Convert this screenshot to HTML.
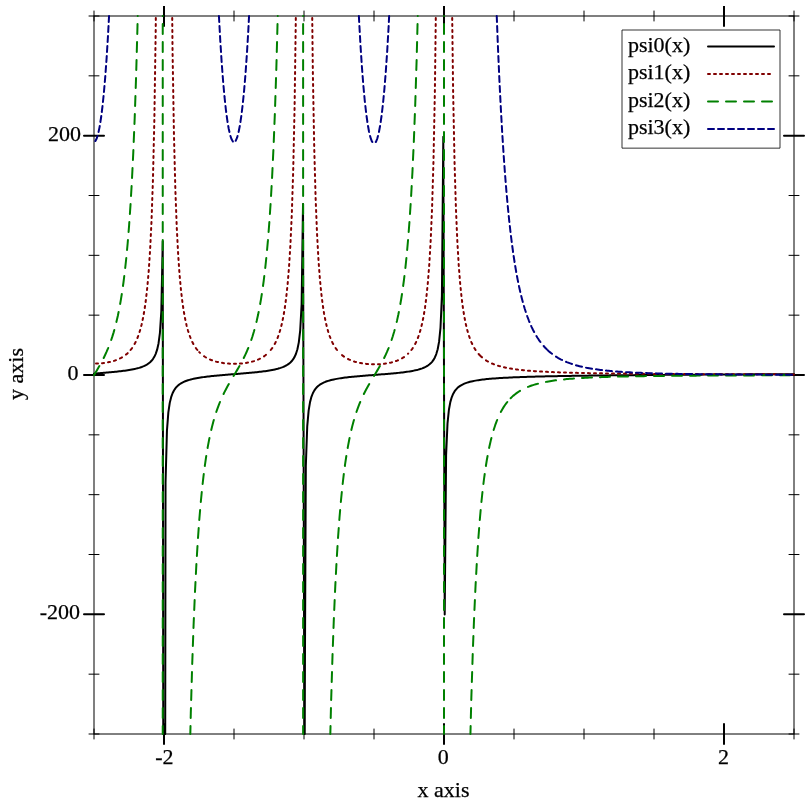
<!DOCTYPE html>
<html><head><meta charset="utf-8"><title>psi plot</title>
<style>
html,body{margin:0;padding:0;background:#fff;}
body{width:812px;height:812px;overflow:hidden;}
svg{display:block;}
text{font-family:"Liberation Serif",serif;font-size:22px;fill:#000;stroke:#000;stroke-width:.25px;}
.ax{fill:none;stroke:#000;stroke-width:1;}
.mn{fill:none;stroke:#000;stroke-width:1;stroke-linecap:round;}
.mj{fill:none;stroke:#000;stroke-width:2;stroke-linecap:round;}
polyline,.cv,.lg{fill:none;stroke-width:2;stroke-linecap:round;stroke-linejoin:round;}
.c0{stroke:#000;}
.c1{stroke:#800000;}
.c2{stroke:#008000;}
.c3{stroke:#000080;}
</style></head><body>
<svg width="812" height="812" viewBox="0 0 812 812">
<rect x="0" y="0" width="812" height="812" fill="#fff"/>
<defs><clipPath id="pc"><rect x="6" y="6" width="800" height="800"/></clipPath></defs>
<g clip-path="url(#pc)">
<rect class="ax" x="94" y="16" width="700" height="718"/>
<path class="mn" d="M94.00 11.00V21.00M94.00 729.00V739.00M234.00 11.00V21.00M234.00 729.00V739.00M304.00 11.00V21.00M304.00 729.00V739.00M374.00 11.00V21.00M374.00 729.00V739.00M514.00 11.00V21.00M514.00 729.00V739.00M584.00 11.00V21.00M584.00 729.00V739.00M654.00 11.00V21.00M654.00 729.00V739.00M794.00 11.00V21.00M794.00 729.00V739.00M89.00 734.00H99.00M789.00 734.00H799.00M89.00 674.17H99.00M789.00 674.17H799.00M89.00 554.50H99.00M789.00 554.50H799.00M89.00 494.67H99.00M789.00 494.67H799.00M89.00 434.83H99.00M789.00 434.83H799.00M89.00 315.17H99.00M789.00 315.17H799.00M89.00 255.33H99.00M789.00 255.33H799.00M89.00 195.50H99.00M789.00 195.50H799.00M89.00 75.83H99.00M789.00 75.83H799.00M89.00 16.00H99.00M789.00 16.00H799.00"/>
<path class="mj" d="M164.00 6.00V26.00M164.00 724.00V744.00M444.00 6.00V26.00M444.00 724.00V744.00M724.00 6.00V26.00M724.00 724.00V744.00M84.00 614.33H104.00M784.00 614.33H804.00M84.00 375.00H104.00M784.00 375.00H804.00M84.00 135.67H104.00M784.00 135.67H804.00"/>
<g>
<text x="81.1" y="140.6" text-anchor="end">200</text>
<text x="78.6" y="379.8" text-anchor="end">0</text>
<text x="80" y="618.7" text-anchor="end">-200</text>
<text x="164.3" y="763.8" text-anchor="middle">-2</text>
<text x="443.2" y="763.8" text-anchor="middle">0</text>
<text x="723.6" y="763.8" text-anchor="middle">2</text>
<text x="443.6" y="796.7" text-anchor="middle">x axis</text>
<text transform="translate(23.1 374.0) rotate(-90)" text-anchor="middle">y axis</text>
</g>
<g>
<path class="cv c0" d="M94 373.68L95.4 373.57L96.81 373.45L98.21 373.34L99.61 373.22L101.01 373.1L102.42 372.99L103.82 372.87L105.22 372.74L106.63 372.62L108.03 372.5L109.43 372.37L110.83 372.24L112.24 372.1L113.64 371.96L115.04 371.82L116.44 371.67L117.85 371.52L119.25 371.36L120.65 371.2L122.06 371.02L123.46 370.84L124.86 370.65L126.26 370.45L127.67 370.24L129.07 370.01L130.47 369.77L131.88 369.51L133.28 369.24L134.68 368.94L136.08 368.61L137.49 368.25L138.89 367.86L140.29 367.43L141.7 366.95L143.1 366.41L144.5 365.8L145.9 365.09L147.31 364.28L148.71 363.32L150.11 362.18L151.52 360.79L152.92 359.05L154.32 356.83L155.72 353.86L157.13 349.69L158.53 343.41L159.93 332.81L161.33 311.11L162.74 241.23L163.26 734"/>
<path class="cv c0" d="M165.22 734L165.54 482.43L166.95 430.69L168.35 412.31L169.75 402.88L171.15 397.14L172.56 393.26L173.96 390.47L175.36 388.36L176.77 386.7L178.17 385.37L179.57 384.27L180.97 383.34L182.38 382.55L183.78 381.87L185.18 381.27L186.59 380.75L187.99 380.28L189.39 379.85L190.79 379.47L192.2 379.12L193.6 378.8L195 378.51L196.4 378.24L197.81 377.98L199.21 377.74L200.61 377.52L202.02 377.31L203.42 377.12L204.82 376.93L206.22 376.75L207.63 376.58L209.03 376.42L210.43 376.26L211.84 376.11L213.24 375.96L214.64 375.82L216.04 375.69L217.45 375.56L218.85 375.43L220.25 375.3L221.66 375.18L223.06 375.06L224.46 374.94L225.86 374.82L227.27 374.7L228.67 374.59L230.07 374.47L231.47 374.36L232.88 374.25L234.28 374.14L235.68 374.02L237.09 373.91L238.49 373.8L239.89 373.68L241.29 373.57L242.7 373.45L244.1 373.33L245.5 373.22L246.91 373.09L248.31 372.97L249.71 372.84L251.11 372.71L252.52 372.58L253.92 372.44L255.32 372.3L256.73 372.16L258.13 372L259.53 371.85L260.93 371.68L262.34 371.51L263.74 371.33L265.14 371.14L266.55 370.94L267.95 370.72L269.35 370.5L270.75 370.26L272.16 370L273.56 369.72L274.96 369.41L276.36 369.09L277.77 368.73L279.17 368.33L280.57 367.89L281.98 367.4L283.38 366.85L284.78 366.22L286.18 365.5L287.59 364.67L288.99 363.68L290.39 362.49L291.8 361.05L293.2 359.23L294.6 356.88L296 353.72L297.41 349.23L298.81 342.33L300.21 330.35L301.62 304.3L303.02 203.91L304.33 734"/>
<path class="cv c0" d="M304.6 734L305.82 466.32L307.23 426.35L308.63 410.58L310.03 402.13L311.43 396.86L312.84 393.25L314.24 390.62L315.64 388.62L317.05 387.04L318.45 385.76L319.85 384.7L321.25 383.81L322.66 383.05L324.06 382.39L325.46 381.81L326.87 381.3L328.27 380.84L329.67 380.43L331.07 380.06L332.48 379.72L333.88 379.41L335.28 379.13L336.69 378.86L338.09 378.61L339.49 378.38L340.89 378.17L342.3 377.97L343.7 377.77L345.1 377.59L346.51 377.42L347.91 377.26L349.31 377.1L350.71 376.95L352.12 376.8L353.52 376.66L354.92 376.53L356.32 376.4L357.73 376.27L359.13 376.15L360.53 376.03L361.94 375.91L363.34 375.79L364.74 375.68L366.14 375.56L367.55 375.45L368.95 375.34L370.35 375.24L371.76 375.13L373.16 375.02L374.56 374.91L375.96 374.81L377.37 374.7L378.77 374.59L380.17 374.48L381.58 374.37L382.98 374.26L384.38 374.15L385.78 374.04L387.19 373.92L388.59 373.8L389.99 373.68L391.39 373.56L392.8 373.43L394.2 373.3L395.6 373.16L397.01 373.02L398.41 372.87L399.81 372.72L401.21 372.56L402.62 372.4L404.02 372.22L405.42 372.04L406.83 371.84L408.23 371.63L409.63 371.41L411.03 371.17L412.44 370.92L413.84 370.64L415.24 370.34L416.65 370.02L418.05 369.66L419.45 369.26L420.85 368.82L422.26 368.33L423.66 367.78L425.06 367.14L426.46 366.41L427.87 365.55L429.27 364.54L430.67 363.32L432.08 361.82L433.48 359.92L434.88 357.45L436.28 354.09L437.69 349.24L439.09 341.64L440.49 327.97L441.9 296.1L443.3 136.85L444.7 614.54L446.1 455.28L447.51 423.41L448.91 409.75L450.31 402.14L451.72 397.3L453.12 393.94L454.52 391.47L455.92 389.58L457.33 388.09L458.73 386.87L460.13 385.87L461.54 385.02L462.94 384.29L464.34 383.67L465.74 383.12L467.15 382.64L468.55 382.21L469.95 381.82L471.35 381.48L472.76 381.16L474.16 380.88L475.56 380.62L476.97 380.38L478.37 380.15L479.77 379.95L481.17 379.76L482.58 379.58L483.98 379.41L485.38 379.26L486.79 379.11L488.19 378.97L489.59 378.84L490.99 378.72L492.4 378.6L493.8 378.49L495.2 378.39L496.61 378.29L498.01 378.19L499.41 378.1L500.81 378.02L502.22 377.93L503.62 377.85L505.02 377.78L506.42 377.7L507.83 377.63L509.23 377.56L510.63 377.5L512.04 377.43L513.44 377.37L514.84 377.31L516.24 377.26L517.65 377.2L519.05 377.15L520.45 377.1L521.86 377.05L523.26 377L524.66 376.95L526.06 376.9L527.47 376.86L528.87 376.82L530.27 376.77L531.68 376.73L533.08 376.69L534.48 376.65L535.88 376.62L537.29 376.58L538.69 376.54L540.09 376.51L541.49 376.47L542.9 376.44L544.3 376.41L545.7 376.37L547.11 376.34L548.51 376.31L549.91 376.28L551.31 376.25L552.72 376.22L554.12 376.19L555.52 376.16L556.93 376.14L558.33 376.11L559.73 376.08L561.13 376.06L562.54 376.03L563.94 376.01L565.34 375.98L566.75 375.96L568.15 375.93L569.55 375.91L570.95 375.89L572.36 375.87L573.76 375.84L575.16 375.82L576.57 375.8L577.97 375.78L579.37 375.76L580.77 375.74L582.18 375.72L583.58 375.7L584.98 375.68L586.38 375.66L587.79 375.64L589.19 375.62L590.59 375.6L592 375.58L593.4 375.56L594.8 375.55L596.2 375.53L597.61 375.51L599.01 375.49L600.41 375.48L601.82 375.46L603.22 375.44L604.62 375.43L606.02 375.41L607.43 375.4L608.83 375.38L610.23 375.37L611.64 375.35L613.04 375.33L614.44 375.32L615.84 375.3L617.25 375.29L618.65 375.28L620.05 375.26L621.45 375.25L622.86 375.23L624.26 375.22L625.66 375.21L627.07 375.19L628.47 375.18L629.87 375.17L631.27 375.15L632.68 375.14L634.08 375.13L635.48 375.11L636.89 375.1L638.29 375.09L639.69 375.08L641.09 375.06L642.5 375.05L643.9 375.04L645.3 375.03L646.71 375.02L648.11 375L649.51 374.99L650.91 374.98L652.32 374.97L653.72 374.96L655.12 374.95L656.53 374.94L657.93 374.93L659.33 374.91L660.73 374.9L662.14 374.89L663.54 374.88L664.94 374.87L666.34 374.86L667.75 374.85L669.15 374.84L670.55 374.83L671.96 374.82L673.36 374.81L674.76 374.8L676.16 374.79L677.57 374.78L678.97 374.77L680.37 374.76L681.78 374.75L683.18 374.74L684.58 374.73L685.98 374.72L687.39 374.71L688.79 374.71L690.19 374.7L691.6 374.69L693 374.68L694.4 374.67L695.8 374.66L697.21 374.65L698.61 374.64L700.01 374.63L701.41 374.63L702.82 374.62L704.22 374.61L705.62 374.6L707.03 374.59L708.43 374.58L709.83 374.57L711.23 374.57L712.64 374.56L714.04 374.55L715.44 374.54L716.85 374.53L718.25 374.53L719.65 374.52L721.05 374.51L722.46 374.5L723.86 374.49L725.26 374.49L726.67 374.48L728.07 374.47L729.47 374.46L730.87 374.46L732.28 374.45L733.68 374.44L735.08 374.43L736.48 374.43L737.89 374.42L739.29 374.41L740.69 374.41L742.1 374.4L743.5 374.39L744.9 374.38L746.3 374.38L747.71 374.37L749.11 374.36L750.51 374.36L751.92 374.35L753.32 374.34L754.72 374.34L756.12 374.33L757.53 374.32L758.93 374.32L760.33 374.31L761.74 374.3L763.14 374.3L764.54 374.29L765.94 374.28L767.35 374.28L768.75 374.27L770.15 374.26L771.56 374.26L772.96 374.25L774.36 374.24L775.76 374.24L777.17 374.23L778.57 374.23L779.97 374.22L781.37 374.21L782.78 374.21L784.18 374.2L785.58 374.19L786.99 374.19L788.39 374.18L789.79 374.18L791.19 374.17L792.6 374.16L794 374.16"/>
<path class="cv c1" d="M96 363.56L96.81 363.54L98 363.49M102 363.2L102.42 363.16L103.82 363L104 362.98M108 362.35L108.03 362.35L109.43 362.06L110 361.93M114 360.86L115.04 360.52L116 360.18M120 358.45L120.65 358.13L122 357.38M126 354.59L126.26 354.38L127.67 353.14M130.58 350L131.88 348.32L132.09 348M134.59 344L134.68 343.85L135.62 342M137.42 338L137.49 337.84L138.17 336M139.53 332L140.15 330M141.22 326L141.7 324.16L141.73 324M142.59 320L143.02 318M143.74 314L144.09 312M144.74 308L145.02 306M145.59 302L145.87 300M146.32 296L146.55 294M147 290L147.22 288M147.59 284L147.76 282M148.11 278L148.28 276M148.63 272L148.71 271.1L148.78 270M149.05 266L149.18 264M149.44 260L149.57 258M149.84 254L149.97 252M150.2 248L150.3 246M150.49 242L150.59 240M150.78 236L150.88 234M151.08 230L151.17 228M151.37 224L151.47 222M151.62 218L151.69 216M151.83 212L151.9 210M152.03 206L152.1 204M152.24 200L152.31 198M152.45 194L152.52 192M152.66 188L152.73 186M152.87 182L152.92 180.5L152.93 180M153.02 176L153.07 174M153.17 170L153.21 168M153.31 164L153.35 162M153.45 158L153.5 156M153.59 152L153.64 150M153.73 146L153.78 144M153.87 140L153.92 138M154.02 134L154.06 132M154.16 128L154.21 126M154.3 122L154.32 121.14L154.34 120M154.4 116L154.43 114M154.49 110L154.52 108M154.58 104L154.61 102M154.67 98L154.7 96M154.76 92L154.8 90M154.86 86L154.89 84M154.95 80L154.98 78M155.04 74L155.07 72M155.13 68L155.16 66M155.22 62L155.25 60M155.31 56L155.34 54M155.4 50L155.44 48M155.5 44L155.53 42M155.59 38L155.62 36M155.68 32L155.71 30M155.75 26L155.77 24M155.81 20L155.82 18M172.22 18L172.24 20M172.28 24L172.3 26M172.34 30L172.36 32M172.4 36L172.42 38M172.46 42L172.48 44M172.52 48L172.54 50M172.6 54L172.64 56M172.7 60L172.74 62M172.8 66L172.84 68M172.9 72L172.94 74M173.01 78L173.04 80M173.11 84L173.14 86M173.21 90L173.24 92M173.31 96L173.34 98M173.41 102L173.44 104M173.51 108L173.54 110M173.61 114L173.64 116M173.71 120L173.74 122M173.81 126L173.84 128M173.91 132L173.94 134M174.03 138L174.09 140M174.19 144L174.24 146M174.34 150L174.39 152M174.5 156L174.55 158M174.65 162L174.7 164M174.8 168L174.85 170M174.96 174L175.01 176M175.11 180L175.16 182M175.26 186L175.32 188M175.44 192L175.52 194M175.67 198L175.74 200M175.89 204L175.96 206M176.11 210L176.19 212M176.34 216L176.41 218M176.56 222L176.63 224M176.79 228L176.89 230M177.1 234L177.2 236M177.41 240L177.51 242M177.72 246L177.82 248M178.03 252L178.14 254M178.4 258L178.54 260M178.82 264L178.96 266M179.24 270L179.38 272M179.69 276L179.87 278M180.24 282L180.42 284M180.79 288L180.97 290M181.44 294L181.68 296M182.15 300L182.38 301.97L182.38 302M182.97 306L183.27 308M183.88 312L184.25 314M184.98 318L185.18 319.11L185.38 320M186.28 324L186.59 325.38L186.75 326M187.83 330L187.99 330.57L188.45 332M189.8 336L190.56 338M192.33 342L193.37 344M195.86 348L196.4 348.79L197.36 350M199.21 352.12L200 352.9M204 356.2L204.82 356.76L206 357.48M210 359.51L210.43 359.7L211.84 360.25L212 360.31M216 361.58L216.04 361.6L217.45 361.95L218 362.08M222 362.85L223.06 363.01L224 363.14M228 363.54L228.67 363.59L230 363.67M234 363.77L234.28 363.78L235.68 363.76L236 363.75M240 363.57L241.29 363.47L242 363.4M246 362.9L246.91 362.75L248 362.56M252 361.65L252.52 361.52L253.92 361.11L254 361.08M258 359.61L258.13 359.56L259.53 358.92L260 358.68M264 356.32L265.14 355.51L266 354.82M270.78 350L272.16 348.17L272.27 348M274.72 344L274.96 343.57L275.73 342M277.51 338L277.77 337.38L278.26 336M279.61 332L280.21 330M281.28 326L281.78 324M282.64 320L283.06 318M283.79 314L284.13 312M284.8 308L285.07 306M285.61 302L285.88 300M286.37 296L286.58 294M287.01 290L287.22 288M287.64 284L287.8 282M288.13 278L288.3 276M288.63 272L288.79 270M289.09 266L289.21 264M289.46 260L289.59 258M289.84 254L289.96 252M290.21 248L290.33 246M290.53 242L290.62 240M290.8 236L290.9 234M291.08 230L291.17 228M291.35 224L291.44 222M291.63 218L291.72 216M291.87 212L291.93 210M292.06 206L292.13 204M292.26 200L292.32 198M292.45 194L292.51 192M292.64 188L292.71 186M292.84 182L292.9 180M293.03 176L293.09 174M293.21 170L293.26 168M293.34 164L293.39 162M293.48 158L293.52 156M293.61 152L293.65 150M293.74 146L293.78 144M293.87 140L293.91 138M294 134L294.04 132M294.13 128L294.17 126M294.26 122L294.3 120M294.39 116L294.43 114M294.52 110L294.56 108M294.63 104L294.66 102M294.72 98L294.74 96M294.8 92L294.83 90M294.88 86L294.91 84M294.96 80L294.99 78M295.05 74L295.08 72M295.13 68L295.16 66M295.21 62L295.24 60M295.3 56L295.32 54M295.38 50L295.41 48M295.46 44L295.49 42M295.55 38L295.57 36M295.63 32L295.66 30M295.71 26L295.74 24M295.8 20L295.82 18M312.23 18L312.25 20M312.3 24L312.32 26M312.37 30L312.39 32M312.44 36L312.46 38M312.5 42L312.53 44M312.57 48L312.59 50M312.64 54L312.66 56M312.71 60L312.73 62M312.78 66L312.8 68M312.85 72L312.88 74M312.96 78L312.99 80M313.07 84L313.1 86M313.18 90L313.21 92M313.29 96L313.32 98M313.4 102L313.43 104M313.51 108L313.54 110M313.61 114L313.65 116M313.72 120L313.76 122M313.83 126L313.87 128M313.94 132L313.98 134M314.05 138L314.09 140M314.16 144L314.2 146M314.29 150L314.35 152M314.46 156L314.51 158M314.62 162L314.68 164M314.79 168L314.85 170M314.96 174L315.01 176M315.12 180L315.18 182M315.29 186L315.34 188M315.45 192L315.51 194M315.62 198L315.64 198.81L315.69 200M315.85 204L315.93 206M316.09 210L316.17 212M316.33 216L316.41 218M316.57 222L316.65 224M316.81 228L316.89 230M317.05 234L317.05 234.01L317.16 236M317.38 240L317.49 242M317.71 246L317.82 248M318.04 252L318.15 254M318.37 258L318.45 259.46L318.49 260M318.78 264L318.93 266M319.23 270L319.38 272M319.67 276L319.82 278M320.19 282L320.39 284M320.77 288L320.97 290M321.38 294L321.62 296M322.12 300L322.36 302M322.91 306L323.22 308M323.83 312L324.06 313.46L324.16 314M324.93 318L325.31 320M326.2 324L326.67 326M327.75 330L328.27 331.86L328.32 332M329.65 336L329.67 336.07L330.43 338M332.16 342L332.48 342.68L333.18 344M335.59 348L336.69 349.55L337.05 350M342 355.09L342.3 355.34L343.7 356.41L344 356.61M348 359L349.31 359.64L350 359.94M354 361.44L354.92 361.73L356 362.03M360 362.97L360.53 363.07L361.94 363.32L362 363.33M366 363.86L366.14 363.88L367.55 364.01L368 364.05M372 364.27L373.16 364.3L374 364.31M378 364.24L378.77 364.21L380 364.13M384 363.77L384.38 363.72L385.78 363.53L386 363.5M390 362.77L391.39 362.45L392 362.29M396 361.06L397.01 360.69L398 360.28M402 358.3L402.62 357.95L404 357.06M408 353.8L408.23 353.59M411.38 350L412.44 348.56L412.8 348M415.16 344L415.24 343.86L416.13 342M417.84 338L418.05 337.5L418.57 336M419.88 332L420.46 330M421.49 326L421.98 324M422.83 320L423.23 318M423.95 314L424.28 312M424.93 308L425.06 307.16L425.21 306M425.73 302L425.99 300M426.5 296L426.7 294M427.11 290L427.31 288M427.72 284L427.87 282.52L427.91 282M428.22 278L428.38 276M428.69 272L428.85 270M429.16 266L429.27 264.57L429.3 264M429.54 260L429.66 258M429.89 254L430.01 252M430.24 248L430.36 246M430.59 242L430.67 240.65L430.7 240M430.87 236L430.96 234M431.13 230L431.21 228M431.38 224L431.47 222M431.64 218L431.73 216M431.9 212L431.98 210M432.13 206L432.19 204M432.31 200L432.37 198M432.49 194L432.55 192M432.67 188L432.73 186M432.85 182L432.91 180M433.03 176L433.09 174M433.21 170L433.27 168M433.39 164L433.45 162M433.54 158L433.58 156M433.66 152L433.7 150M433.78 146L433.82 144M433.9 140L433.94 138M434.02 134L434.06 132M434.14 128L434.18 126M434.26 122L434.3 120M434.38 116L434.42 114M434.5 110L434.54 108M434.62 104L434.66 102M434.74 98L434.78 96M434.86 92L434.88 90.72L434.89 90M434.94 86L434.97 84M435.02 80L435.04 78M435.09 74L435.12 72M435.17 68L435.19 66M435.24 62L435.27 60M435.32 56L435.34 54M435.39 50L435.42 48M435.47 44L435.49 42M435.54 38L435.57 36M435.62 32L435.64 30M435.69 26L435.72 24M435.77 20L435.79 18M452.2 18L452.23 20M452.28 24L452.3 26M452.35 30L452.38 32M452.43 36L452.45 38M452.5 42L452.53 44M452.58 48L452.6 50M452.65 54L452.68 56M452.73 60L452.75 62M452.8 66L452.83 68M452.88 72L452.9 74M452.95 78L452.98 80M453.03 84L453.05 86M453.1 90L453.12 91.1L453.14 92M453.22 96L453.26 98M453.34 102L453.38 104M453.46 108L453.5 110M453.58 114L453.62 116M453.7 120L453.74 122M453.82 126L453.86 128M453.94 132L453.98 134M454.05 138L454.09 140M454.17 144L454.21 146M454.29 150L454.33 152M454.41 156L454.45 158M454.54 162L454.6 164M454.72 168L454.78 170M454.9 174L454.96 176M455.08 180L455.14 182M455.26 186L455.32 188M455.44 192L455.5 194M455.62 198L455.68 200M455.8 204L455.86 206M456 210L456.08 212M456.25 216L456.34 218M456.51 222L456.59 224M456.76 228L456.85 230M457.02 234L457.1 236M457.28 240L457.33 241.21L457.37 242M457.61 246L457.72 248M457.96 252L458.07 254M458.31 258L458.43 260M458.66 264L458.73 265.19L458.79 266M459.1 270L459.26 272M459.57 276L459.73 278M460.04 282L460.13 283.19L460.21 284M460.62 288L460.82 290M461.23 294L461.43 296M461.91 300L462.17 302M462.69 306L462.94 307.96L462.94 308M463.59 312L463.91 314M464.6 318L464.99 320M465.79 324L466.27 326M467.25 330L467.82 332M469.05 336L469.74 338M471.3 342L471.35 342.13L472.23 344M474.33 348L475.56 349.98L475.57 350M478.64 354L479.77 355.25M480 355.47L481.17 356.62L482 357.34M486 360.34L486.79 360.84L488 361.54M492 363.52L492.4 363.69L493.8 364.26L494 364.34M498 365.71L498.01 365.71L499.41 366.13L500 366.29M504 367.29L505.02 367.52L506 367.72M510 368.47L510.63 368.57L512 368.79M516 369.37L516.24 369.4L517.65 369.58L518 369.62M522 370.08L523.26 370.21L524 370.28M528 370.65L528.87 370.72L530 370.81M534 371.11L534.48 371.15L535.88 371.24L536 371.25M540 371.5L540.09 371.5L541.49 371.58L542 371.61M546 371.82L547.11 371.87L548 371.91M552 372.09L552.72 372.12L554 372.17M558 372.32L558.33 372.33L559.73 372.38L560 372.39M564 372.52L565.34 372.57L566 372.58M570 372.7L570.95 372.73L572 372.75M576 372.85L576.57 372.87L577.97 372.9L578 372.9M582 372.99L582.18 372.99L583.58 373.02L584 373.03M588 373.11L589.19 373.13L590 373.15M594 373.22L594.8 373.23L596 373.25M600 373.32L600.41 373.32L601.82 373.34L602 373.35M606 373.4L606.02 373.4L607.43 373.42L608 373.43M612 373.48L613.04 373.5L614 373.51M618 373.56L618.65 373.56L620 373.58M624 373.62L624.26 373.62L625.66 373.64L626 373.64M630 373.68L631.27 373.69L632 373.7M636 373.74L636.89 373.75L638 373.76M642 373.79L642.5 373.79L643.9 373.81L644 373.81M648 373.84L648.11 373.84L649.51 373.85L650 373.85M654 373.88L655.12 373.89L656 373.9M660 373.92L660.73 373.93L662 373.94M666 373.96L666.34 373.96L667.75 373.97L668 373.97M672 374L673.36 374L674 374.01M678 374.03L678.97 374.03L680 374.04M684 374.06L684.58 374.06L685.98 374.07L686 374.07M690 374.09L690.19 374.09L691.6 374.1L692 374.1M696 374.12L697.21 374.12L698 374.13M702 374.14L702.82 374.15L704 374.15M708 374.17L708.43 374.17L709.83 374.18L710 374.18M714 374.19L714.04 374.19L715.44 374.2L716 374.2M720 374.21L721.05 374.22L722 374.22M726 374.24L726.67 374.24L728 374.24M732 374.25L732.28 374.26L733.68 374.26L734 374.26M738 374.27L739.29 374.28L740 374.28M744 374.29L744.9 374.29L746 374.3M750 374.31L750.51 374.31L751.92 374.31L752 374.31M756 374.33L756.12 374.33L757.53 374.33L758 374.33M762 374.34L763.14 374.34L764 374.35M768 374.36L768.75 374.36L770 374.36M774 374.37L774.36 374.37L775.76 374.37L776 374.37M780 374.38L781.37 374.39L782 374.39M786 374.4L786.99 374.4L788 374.4M792 374.41L792.6 374.41L794 374.41"/>
<path class="cv c2" d="M94 375.13L95.4 372.79L96.81 370.43L98.21 368.04L99.38 366M103.66 358L103.82 357.68L105.22 354.78L106.63 351.7L108.03 348.41L108.19 348M111.19 340L112.24 336.9L113.64 332.36L114.3 330M116.4 322L116.44 321.83L117.85 315.69L118.6 312M120.13 304L120.65 301.11L121.8 294M122.96 286L123.46 282.51L124.27 276M125.21 268L126.26 258.24L126.29 258M127.04 250L127.67 243.24L127.93 240M128.57 232L129.07 225.8L129.33 222M129.88 214L130.47 205.37L130.55 204M131.02 196L131.6 186M132.04 178L132.53 168M132.92 160L133.28 152.64L133.39 150M133.71 142L134.12 132M134.45 124L134.68 118.31L134.83 114M135.1 106L135.44 96M135.71 88L136.04 78M136.27 70L136.55 60M136.77 52L137.05 42M137.27 34L137.49 26.08L137.53 24M137.71 16L137.72 16M162.74 16L162.75 16M162.74 24L162.74 34M162.74 42L162.74 52M162.74 60L162.74 70M162.74 78L162.74 88M162.74 96L162.74 106M162.74 114L162.74 124M162.74 132L162.74 142M162.74 150L162.74 160M162.74 168L162.74 178M162.74 186L162.74 196M162.74 204L162.74 214M162.74 222L162.74 232M162.74 240L162.74 250M162.74 258L162.74 268M162.74 276L162.74 286M162.74 294L162.74 304M162.74 312L162.74 322M162.74 330L162.74 340M162.74 348L162.74 358M162.74 366L162.74 376M162.74 384L162.74 394M162.74 402L162.74 412M162.74 420L162.74 430M162.74 438L162.74 448M162.74 456L162.74 466M162.74 474L162.74 484M162.74 492L162.74 502M162.74 510L162.74 520M162.74 528L162.74 538M162.74 546L162.74 556M162.74 564L162.74 574M162.74 582L162.74 592M162.74 600L162.74 610M162.74 618L162.74 628M162.74 636L162.74 646M162.74 654L162.74 664M162.74 672L162.74 682M162.74 690L162.74 700M162.74 708L162.74 718M162.74 726L162.74 734M190.31 734L190.5 726M190.68 718L190.79 713.3L190.95 708M191.18 700L191.46 690M191.7 682L191.98 672M192.22 664L192.57 654M192.85 646L193.2 636M193.48 628L193.6 624.68L193.88 618M194.22 610L194.65 600M194.98 592L195 591.59L195.49 582M195.89 574L196.4 564M196.88 556L197.49 546M198 538L198.7 528M199.28 520L200.11 510M200.8 502L201.77 492M202.62 484L203.42 476.78L203.77 474M204.79 466L204.82 465.79L206.22 456.15L206.25 456M207.57 448L207.63 447.66L209.03 440.13L209.47 438M211.23 430L211.84 427.4L213.24 421.99L213.81 420M216.26 412L217.45 408.55L218.85 404.79L219.97 402M223.56 394L224.46 392.16L225.86 389.44L227.27 386.83L228.67 384.32L228.85 384M233.57 376L234.28 374.82L235.68 372.48L237.09 370.12L238.49 367.71L239.47 366M243.74 358L244.1 357.28L245.5 354.35L246.91 351.23L248.27 348M251.26 340L252.52 336.21L253.92 331.58L254.35 330M256.44 322L256.73 320.84L258.13 314.57L258.64 312M260.16 304L260.93 299.65L261.82 294M262.99 286L263.74 280.57L264.29 276M265.24 268L266.29 258M267.06 250L267.95 240.17L267.96 240M268.59 232L269.35 222.18L269.36 222M269.89 214L270.56 204M271.04 196L271.6 186M272.05 178L272.16 176.16L272.54 168M272.92 160L273.39 150M273.74 142L274.13 132M274.44 124L274.84 114M275.12 106L275.44 96M275.7 88L276.03 78M276.29 70L276.36 67.69L276.57 60M276.78 52L277.05 42M277.26 34L277.52 24M277.74 16L277.75 16M303.12 16L303.13 16M303.12 24L303.12 34M303.12 42L303.12 52M303.12 60L303.12 70M303.12 78L303.12 88M303.12 96L303.12 106M303.12 114L303.12 124M303.12 132L303.12 142M303.12 150L303.12 160M303.12 168L303.12 178M303.12 186L303.12 196M303.12 204L303.12 214M303.12 222L303.12 232M303.12 240L303.12 250M303.12 258L303.12 268M303.12 276L303.12 286M303.12 294L303.12 304M303.12 312L303.12 322M303.12 330L303.12 340M303.12 348L303.12 358M303.12 366L303.12 376M303.12 384L303.12 394M303.12 402L303.12 412M303.12 420L303.12 430M303.12 438L303.12 448M303.12 456L303.12 466M303.12 474L303.12 484M303.12 492L303.12 502M303.12 510L303.12 520M303.12 528L303.12 538M303.12 546L303.12 556M303.12 564L303.12 574M303.12 582L303.12 592M303.12 600L303.12 610M303.12 618L303.12 628M303.12 636L303.12 646M303.12 654L303.12 664M303.12 672L303.12 682M303.12 690L303.12 700M303.12 708L303.12 718M303.12 726L303.12 734M330.32 734L330.52 726M330.71 718L330.96 708M331.17 700L331.47 690M331.71 682L332.01 672M332.25 664L332.48 656.41L332.56 654M332.86 646L333.22 636M333.51 628L333.88 618M334.23 610L334.67 600M335.02 592L335.28 586.1L335.5 582M335.92 574L336.44 564M336.9 556L337.52 546M338.02 538L338.09 536.88L338.74 528M339.32 520L339.49 517.73L340.15 510M340.84 502L340.89 501.33L341.82 492M342.66 484L343.7 474.94L343.82 474M344.87 466L345.1 464.24L346.33 456M347.67 448L347.91 446.58L349.31 439.23L349.57 438M351.35 430L352.12 426.8L353.52 421.51L353.96 420M356.44 412L357.73 408.34L359.13 404.65L360.22 402M363.86 394L364.74 392.23L366.14 389.54L367.55 386.97L368.95 384.49L369.23 384M374 376L374.56 375.06L375.96 372.74L377.37 370.38L378.77 367.99L379.9 366M384.15 358L384.38 357.53L385.78 354.58L387.19 351.45L388.59 348.09L388.62 348M391.57 340L392.8 336.25L394.2 331.56L394.62 330M396.68 322L397.01 320.65L398.41 314.25L398.85 312M400.35 304L401.21 299.03L401.99 294M403.14 286L404.02 279.5L404.43 276M405.38 268L405.42 267.6L406.41 258M407.17 250L408.05 240M408.68 232L409.44 222M409.98 214L410.63 204M411.13 196L411.67 186M412.11 178L412.44 171.94L412.62 168M412.98 160L413.44 150M413.8 142L413.84 141.22L414.19 132M414.49 124L414.87 114M415.18 106L415.24 104.26L415.5 96M415.75 88L416.06 78M416.31 70L416.63 60M416.83 52L417.09 42M417.29 34L417.55 24M417.75 16L417.76 16M444 16L444.01 16M444 24L444 34M444 42L444 52M444 60L444 70M444 78L444 88M444 96L444 106M444 114L444 124M444 132L444 142M444 150L444 160M444 168L444 178M444 186L444 196M444 204L444 214M444 222L444 232M444 240L444 250M444 258L444 268M444 276L444 286M444 294L444 304M444 312L444 322M444 330L444 340M444 348L444 358M444 366L444 376M444 384L444 394M444 402L444 412M444 420L444 430M444 438L444 448M444 456L444 466M444 474L444 484M444 492L444 502M444 510L444 520M444 528L444 538M444 546L444 556M444 564L444 574M444 582L444 592M444 600L444 610M444 618L444 628M444 636L444 646M444 654L444 664M444 672L444 682M444 690L444 700M444 708L444 718M444 726L444 734M470.43 734L470.63 726M470.83 718L471.09 708M471.29 700L471.35 697.63L471.59 690M471.84 682L472.16 672M472.41 664L472.72 654M473.02 646L473.4 636M473.71 628L474.09 618M474.44 610L474.9 600M475.27 592L475.56 585.53L475.76 582M476.2 574L476.74 564M477.22 556L477.87 546M478.4 538L479.16 528M479.78 520L480.67 510M481.42 502L482.46 492M483.41 484L483.98 479.25L484.71 474M485.88 466L486.79 460.27L487.56 456M489.11 448L489.59 445.66L490.99 439.62L491.42 438M493.64 430L493.8 429.46L495.2 425.19L496.61 421.35L497.15 420M500.81 412L500.81 411.98L502.22 409.44L503.62 407.12L505.02 405.01L506.42 403.09L507.29 402M510.63 398.23L512.04 396.87L513.44 395.61L514.84 394.45L516.24 393.38L517.65 392.39L519.05 391.47L520 390.89M528 386.93L528.87 386.58L530.27 386.05L531.68 385.55L533.08 385.09L534.48 384.65L535.88 384.24L537.29 383.85L538 383.66M546 381.88L547.11 381.68L548.51 381.43L549.91 381.19L551.31 380.97L552.72 380.76L554.12 380.56L555.52 380.36L556 380.3M564 379.38L565.34 379.25L566.75 379.12L568.15 378.99L569.55 378.87L570.95 378.75L572.36 378.64L573.76 378.54L574 378.52M582 377.99L582.18 377.98L583.58 377.9L584.98 377.82L586.38 377.75L587.79 377.68L589.19 377.61L590.59 377.54L592 377.48L592 377.48M600 377.15L600.41 377.14L601.82 377.09L603.22 377.04L604.62 376.99L606.02 376.95L607.43 376.9L608.83 376.86L610 376.83M618 376.61L618.65 376.6L620.05 376.56L621.45 376.53L622.86 376.5L624.26 376.47L625.66 376.44L627.07 376.41L628 376.39M636 376.25L636.89 376.23L638.29 376.21L639.69 376.19L641.09 376.17L642.5 376.15L643.9 376.13L645.3 376.11L646 376.1M654 375.99L655.12 375.98L656.53 375.96L657.93 375.95L659.33 375.93L660.73 375.92L662.14 375.9L663.54 375.89L664 375.88M672 375.81L673.36 375.79L674.76 375.78L676.16 375.77L677.57 375.76L678.97 375.75L680.37 375.74L681.78 375.72L682 375.72M690 375.67L690.19 375.66L691.6 375.65L693 375.65L694.4 375.64L695.8 375.63L697.21 375.62L698.61 375.61L700 375.6M708 375.56L708.43 375.56L709.83 375.55L711.23 375.54L712.64 375.54L714.04 375.53L715.44 375.52L716.85 375.52L718 375.51M726 375.48L726.67 375.47L728.07 375.47L729.47 375.46L730.87 375.46L732.28 375.45L733.68 375.45L735.08 375.44L736 375.44M744 375.41L744.9 375.41L746.3 375.4L747.71 375.4L749.11 375.39L750.51 375.39L751.92 375.38L753.32 375.38L754 375.38M762 375.36L763.14 375.35L764.54 375.35L765.94 375.34L767.35 375.34L768.75 375.34L770.15 375.33L771.56 375.33L772 375.33M780 375.31L781.37 375.31L782.78 375.31L784.18 375.3L785.58 375.3L786.99 375.3L788.39 375.29L789.79 375.29L790 375.29"/>
<path class="cv c3" d="M95.4 141.03L96.81 138.24L97.47 136M98.53 132L99.61 126.83L99.74 126M100.38 122L101.01 118.02L101.27 116M101.78 112L102.42 106.95L102.52 106M102.93 102L103.55 96M103.94 92L104.46 86M104.8 82L105.22 77.16L105.31 76M105.6 72L106.03 66M106.33 62L106.63 57.89L106.74 56M106.99 52L107.36 46M107.61 42L107.98 36M108.2 32L108.52 26M108.73 22L109.05 16M218.93 16L219.26 22M219.48 26L219.81 32M220.02 36L220.25 40.19L220.37 42M220.62 46L221.01 52M221.26 56L221.65 62M221.95 66L222.4 72M222.7 76L223.06 80.79L223.17 82M223.52 86L224.06 92M224.42 96L224.46 96.48L225.06 102M225.49 106L225.86 109.51L226.19 112M226.72 116L227.27 120.12L227.58 122M228.25 126L228.67 128.5L229.45 132M230.46 136L231.47 139.12L232.88 141.54M235.68 140.81L237.09 137.64L237.54 136M238.6 132L239.78 126M240.41 122L241.29 116.2L241.32 116M241.8 112L242.53 106M242.96 102L243.56 96M243.96 92L244.1 90.59L244.48 86M244.82 82L245.32 76M245.63 72L246.05 66M246.33 62L246.75 56M247.02 52L247.38 46M247.62 42L247.98 36M248.22 32L248.31 30.46L248.54 26M248.74 22L249.05 16M358.89 16L359.13 21.03L359.18 22M359.41 26L359.75 32M359.97 36L360.31 42M360.53 46L360.93 52M361.19 56L361.59 62M361.85 66L361.94 67.26L362.3 72M362.61 76L363.08 82M363.4 86L363.96 92M364.33 96L364.74 100.49L364.91 102M365.36 106L366.03 112M366.55 116L367.38 122M368.03 126L368.95 131.22L369.14 132M370.08 136L370.35 137.14L371.76 141.11L372.35 142M375.79 142L375.96 141.8L377.37 138.29L377.96 136M378.93 132L380.05 126M380.66 122L381.53 116M382.01 112L382.71 106M383.15 102L383.72 96M384.11 92L384.38 89.2L384.64 86M384.96 82L385.45 76M385.77 72L385.78 71.83L386.18 66M386.46 62L386.87 56M387.14 52L387.19 51.31L387.5 46M387.73 42L388.08 36M388.31 32L388.59 27.22L388.65 26M388.85 22L389.15 16M496.74 16L496.98 22M497.13 26L497.36 32M497.52 36L497.75 42M497.91 46L498.01 48.54L498.16 52M498.34 56L498.6 62M498.78 66L499.05 72M499.22 76L499.41 80.21L499.5 82M499.7 86L500 92M500.2 96L500.51 102M500.71 106L500.81 108.11L501.03 112M501.26 116L501.6 122M501.83 126L502.17 132M502.42 136L502.81 142M503.06 146L503.45 152M503.72 156L504.15 162M504.44 166L504.87 172M505.18 176L505.66 182M505.99 186L506.42 191.43L506.48 192M506.84 196L507.38 202M507.74 206L507.83 206.93L508.34 212M508.74 216L509.23 220.82L509.36 222M509.81 226L510.49 232M510.97 236L511.72 242M512.24 246L513.07 252M513.64 256L514.56 262M515.21 266L516.22 272M516.97 276L517.65 279.66L518.13 282M518.95 286L519.05 286.51L520.28 292M521.25 296L521.86 298.46L522.81 302M523.94 306L524.66 308.44L525.8 312M527.18 316L527.47 316.83L528.87 320.52L529.48 322M531.2 326L531.68 327.07L533.08 329.97L534.14 332M536.41 336L537.29 337.43L538.69 339.57L540.09 341.55L540.43 342M543.67 346L544.3 346.72L545.7 348.21M546 348.51L547.11 349.61L548.51 350.91L549.91 352.13L551.31 353.28L552 353.8M556 356.6L556.93 357.19L558.33 358.02L559.73 358.8L561.13 359.54L562 359.97M566 361.79L566.75 362.11L568.15 362.66L569.55 363.18L570.95 363.68L572 364.03M576 365.26L576.57 365.42L577.97 365.8L579.37 366.16L580.77 366.5L582 366.79M586 367.64L586.38 367.72L587.79 367.98L589.19 368.24L590.59 368.48L592 368.72L592 368.72M596 369.32L596.2 369.35L597.61 369.55L599.01 369.73L600.41 369.91L601.82 370.08L602 370.1M606 370.54L606.02 370.55L607.43 370.69L608.83 370.83L610.23 370.96L611.64 371.08L612 371.12M616 371.45L617.25 371.54L618.65 371.65L620.05 371.74L621.45 371.84L622 371.88M626 372.13L627.07 372.19L628.47 372.27L629.87 372.34L631.27 372.42L632 372.46M636 372.65L636.89 372.69L638.29 372.75L639.69 372.81L641.09 372.87L642 372.9M646 373.05L646.71 373.08L648.11 373.13L649.51 373.17L650.91 373.22L652 373.25M656 373.37L656.53 373.39L657.93 373.43L659.33 373.46L660.73 373.5L662 373.53M666 373.63L666.34 373.63L667.75 373.67L669.15 373.7L670.55 373.72L671.96 373.75L672 373.75M676 373.83L676.16 373.83L677.57 373.86L678.97 373.88L680.37 373.91L681.78 373.93L682 373.94M686 374L687.39 374.02L688.79 374.04L690.19 374.06L691.6 374.08L692 374.08M696 374.14L697.21 374.15L698.61 374.17L700.01 374.18L701.41 374.2L702 374.21M706 374.25L707.03 374.26L708.43 374.27L709.83 374.29L711.23 374.3L712 374.31M716 374.34L716.85 374.35L718.25 374.36L719.65 374.37L721.05 374.39L722 374.39M726 374.42L726.67 374.43L728.07 374.44L729.47 374.45L730.87 374.46L732 374.47M736 374.49L736.48 374.49L737.89 374.5L739.29 374.51L740.69 374.52L742 374.53M746 374.55L746.3 374.55L747.71 374.56L749.11 374.57L750.51 374.57L751.92 374.58L752 374.58M756 374.6L756.12 374.6L757.53 374.61L758.93 374.61L760.33 374.62L761.74 374.62L762 374.62M766 374.64L767.35 374.65L768.75 374.65L770.15 374.66L771.56 374.66L772 374.66M776 374.68L777.17 374.68L778.57 374.69L779.97 374.69L781.37 374.7L782 374.7M786 374.71L786.99 374.71L788.39 374.72L789.79 374.72L791.19 374.72L792 374.73"/>
</g>
<g>
<rect x="622" y="30" width="158" height="118.15" fill="#fff" stroke="#000" stroke-opacity=".8" stroke-width="1" stroke-linejoin="round"/>
<text x="627.9" y="52">psi0(x)</text>
<text x="627.9" y="79.1">psi1(x)</text>
<text x="627.9" y="107">psi2(x)</text>
<text x="627.9" y="134.1">psi3(x)</text>
<path class="lg c0" d="M708 46.4H774"/>
<path class="lg c1" d="M708 74H774" stroke-dasharray="2 4"/>
<path class="lg c2" d="M708 101.4H774" stroke-dasharray="10 8"/>
<path class="lg c3" d="M708 129H774" stroke-dasharray="6 4"/>
</g>
</g>
</svg>
</body></html>
